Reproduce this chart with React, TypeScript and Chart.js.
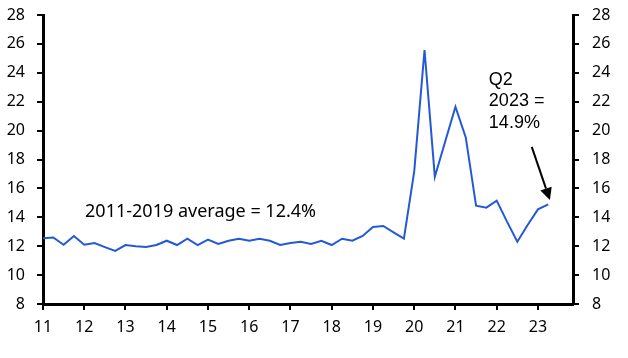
import React, { useEffect, useRef } from "react";
import { Chart, registerables } from "chart.js";
Chart.register(...registerables);

const startYear = 11;
const values = [
  12.55, 12.6, 12.1, 12.7,
  12.1, 12.22, 11.94, 11.67,
  12.08, 12.0, 11.94, 12.08,
  12.38, 12.08, 12.52, 12.08,
  12.45, 12.15, 12.38, 12.52,
  12.38, 12.52, 12.38, 12.08,
  12.22, 12.3, 12.15, 12.38,
  12.08, 12.52, 12.38, 12.71,
  13.33, 13.4, 12.96, 12.52,
  17.16, 25.58, 16.8, 19.23,
  21.65, 19.53, 14.8, 14.67,
  15.15, 13.7, 12.31, 13.47,
  14.55, 14.9,
];
const avgLabel = "2011-2019 average = 12.4%";
const avgLabelPos = { x: 12.02, y: 14.37 };
const lastLabelLines = ["Q2", "2023 =", "14.9%"];
const lastLabelPos = { x: 21.81, y: [23.47, 22.05, 20.53] };
const arrowFrom = { x: 22.85, y: 18.87 };
const arrowTo = { x: 23.29, y: 15.2 };

const TICK_FONT = { family: "'Noto Sans', sans-serif", size: 16 };

export default function App() {
  const ref = useRef<HTMLCanvasElement>(null);
  useEffect(() => {
    if (!ref.current) return;
    const points = values.map((v, i) => ({ x: startYear + i / 4, y: v }));
    const annot = {
      id: "annot",
      afterDraw(chart: any) {
        const { ctx } = chart;
        const xs = chart.scales.x;
        const ys = chart.scales.y;
        ctx.save();
        ctx.fillStyle = "#000";
        ctx.font = "18px 'Noto Sans', sans-serif";
        ctx.textAlign = "left";
        ctx.textBaseline = "middle";
        ctx.fillText(avgLabel, xs.getPixelForValue(avgLabelPos.x), ys.getPixelForValue(avgLabelPos.y));
        ctx.font = "18px 'Liberation Sans', Arial, sans-serif";
        lastLabelLines.forEach((t, i) => {
          ctx.fillText(t, xs.getPixelForValue(lastLabelPos.x), ys.getPixelForValue(lastLabelPos.y[i]));
        });
        const x1 = xs.getPixelForValue(arrowFrom.x);
        const y1 = ys.getPixelForValue(arrowFrom.y);
        const x2 = xs.getPixelForValue(arrowTo.x);
        const y2 = ys.getPixelForValue(arrowTo.y);
        const ang = Math.atan2(y2 - y1, x2 - x1);
        const head = 12;
        const bx = x2 - head * Math.cos(ang);
        const by = y2 - head * Math.sin(ang);
        ctx.strokeStyle = "#000";
        ctx.lineWidth = 2;
        ctx.beginPath();
        ctx.moveTo(x1, y1);
        ctx.lineTo(bx, by);
        ctx.stroke();
        ctx.beginPath();
        ctx.moveTo(x2, y2);
        ctx.lineTo(bx + 6 * Math.sin(ang), by - 6 * Math.cos(ang));
        ctx.lineTo(bx - 6 * Math.sin(ang), by + 6 * Math.cos(ang));
        ctx.closePath();
        ctx.fill();
        ctx.restore();
      },
    };
    const gridCfg = { drawOnChartArea: false, color: "#000", lineWidth: 2, tickLength: 6 };
    const borderCfg = { color: "#000", width: 3 };
    const fitY = (w: number) => (s: any) => {
      s.width = w;
      s.paddingTop = 0;
      s.paddingBottom = 0;
    };
    const chart = new Chart(ref.current, {
      type: "line",
      data: {
        datasets: [
          {
            data: points,
            borderColor: "#2459d6",
            borderWidth: 2,
            pointRadius: 0,
            tension: 0,
            fill: false,
          },
        ],
      },
      options: {
        animation: false,
        responsive: false,
        layout: { padding: { top: 15, left: 0, right: 0, bottom: 0 } },
        plugins: { legend: { display: false }, tooltip: { enabled: false } },
        scales: {
          x: {
            type: "linear",
            position: "bottom",
            min: 11,
            max: 23.85,
            ticks: {
              stepSize: 1,
              includeBounds: false,
              color: "#000",
              font: TICK_FONT,
              padding: 8,
              maxRotation: 0,
              callback: (v: any) => String(v),
            },
            grid: gridCfg,
            border: borderCfg,
            afterFit: (s: any) => { s.height = 54; },
          },
          y: {
            position: "left",
            min: 8,
            max: 28,
            ticks: { stepSize: 2, color: "#000", font: TICK_FONT, padding: 12 },
            grid: gridCfg,
            border: borderCfg,
            afterFit: fitY(43),
          },
          y2: {
            position: "right",
            min: 8,
            max: 28,
            ticks: { stepSize: 2, color: "#000", font: TICK_FONT, padding: 13 },
            grid: gridCfg,
            border: borderCfg,
            afterFit: fitY(55),
          },
        },
      },
      plugins: [annot],
    });
    return () => chart.destroy();
  }, []);
  return (
    <div style={{ position: "fixed", left: 0, top: 0, width: 628, height: 358, background: "#fff" }}>
      <canvas ref={ref} width={628} height={358} />
    </div>
  );
}
